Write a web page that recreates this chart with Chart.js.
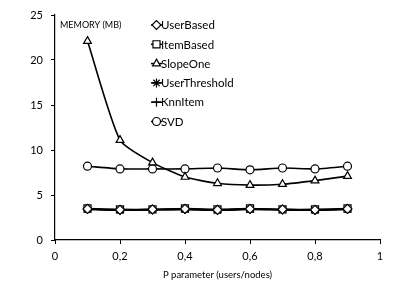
<!DOCTYPE html>
<html>
<head>
<meta charset="UTF-8">
<title>Memory vs P parameter</title>
<script src="https://cdn.jsdelivr.net/npm/chart.js"></script>
<style>
  body { margin: 0; padding: 0; background: #fff; }
  #wrap { width: 415px; height: 294px; position: relative; }
</style>
</head>
<body>
<div id="wrap"><canvas id="memChart" width="415" height="294"></canvas></div>
<script>
  // values
  const pValues = [0.1, 0.2, 0.3, 0.4, 0.5, 0.6, 0.7, 0.8, 0.9];
  const userBased     = [3.45, 3.35, 3.4, 3.45, 3.35, 3.45, 3.4, 3.35, 3.45];
  const itemBased     = [3.5, 3.4, 3.4, 3.5, 3.4, 3.5, 3.4, 3.4, 3.5];
  const slopeOne      = [22.1, 11.1, 8.6, 7.0, 6.3, 6.1, 6.2, 6.6, 7.1];
  const userThreshold = [3.4, 3.3, 3.35, 3.4, 3.3, 3.4, 3.35, 3.3, 3.4];
  const knnItem       = [3.45, 3.3, 3.35, 3.4, 3.3, 3.45, 3.35, 3.3, 3.45];
  const svd           = [8.2, 7.9, 7.9, 7.9, 8.0, 7.8, 8.0, 7.9, 8.2];

  const seriesNames = ['UserBased', 'ItemBased', 'SlopeOne', 'UserThreshold', 'KnnItem', 'SVD'];
  const seriesData = [userBased, itemBased, slopeOne, userThreshold, knnItem, svd];
  const markers = ['rectRot', 'rect', 'triangle', 'star', 'cross', 'circle'];
  const markerSize = [4.5, 5, 4.5, 4.5, 4.5, 4];

  const FONT = 'Lato, "Open Sans", sans-serif';

  const datasets = seriesNames.map((name, i) => ({
    label: name,
    data: pValues.map((p, j) => ({ x: p, y: seriesData[i][j] })),
    borderColor: '#000',
    backgroundColor: '#fff',
    borderWidth: 1.6,
    pointStyle: markers[i],
    pointRadius: markerSize[i],
    pointBorderColor: '#000',
    pointBackgroundColor: '#fff',
    pointBorderWidth: 1.2,
    tension: 0.2
  }));

  // legend + "MEMORY (MB)" label drawn inside the plot
  const innerLegend = {
    id: 'innerLegend',
    afterDraw(chart) {
      const ctx = chart.ctx;
      ctx.save();
      ctx.fillStyle = '#000';
      ctx.font = '9px ' + FONT;
      ctx.textBaseline = 'middle';
      ctx.textAlign = 'left';
      ctx.fillText('MEMORY (MB)', 60, 25);

      ctx.font = '11.5px ' + FONT;
      seriesNames.forEach((name, i) => {
        const y = 25 + i * 19.3;
        ctx.strokeStyle = '#000';
        ctx.lineWidth = 1.5;
        ctx.beginPath();
        ctx.moveTo(151, y);
        ctx.lineTo(162, y);
        ctx.stroke();
        ctx.fillStyle = '#fff';
        ctx.lineWidth = 1.2;
        Chart.helpers.drawPoint(ctx, { pointStyle: markers[i], radius: markerSize[i], rotation: 0, borderWidth: 1.2 }, 156.5, y);
        ctx.fillStyle = '#000';
        ctx.fillText(name, 161, y + 0.5);
      });
      ctx.restore();
    }
  };

  new Chart(document.getElementById('memChart'), {
    type: 'line',
    data: { datasets: datasets },
    options: {
      responsive: false,
      animation: false,
      layout: { padding: { top: 15, right: 35, bottom: 0, left: 0 } },
      plugins: { legend: { display: false }, tooltip: { enabled: false } },
      scales: {
        x: {
          type: 'linear',
          min: 0, max: 1,
          border: { color: '#000', width: 1.2 },
          grid: { drawOnChartArea: false, tickLength: 4, color: '#000' },
          ticks: {
            stepSize: 0.2,
            padding: 6,
            color: '#000',
            font: { family: FONT, size: 11 },
            callback: v => String(Math.round(v * 10) / 10).replace('.', ',')
          },
          title: {
            display: true,
            text: 'P parameter (users/nodes)',
            color: '#000',
            font: { family: FONT, size: 9.5 },
            padding: { top: 4, bottom: 13 }
          },
          afterFit: s => { s.height = 54; }
        },
        y: {
          min: 0, max: 25,
          border: { color: '#000', width: 1.2 },
          grid: { drawOnChartArea: false, tickLength: 4, color: '#000' },
          ticks: {
            stepSize: 5,
            padding: 8,
            color: '#000',
            font: { family: FONT, size: 11 }
          },
          afterFit: s => { s.width = 55; }
        }
      }
    },
    plugins: [innerLegend]
  });
</script>
</body>
</html>
